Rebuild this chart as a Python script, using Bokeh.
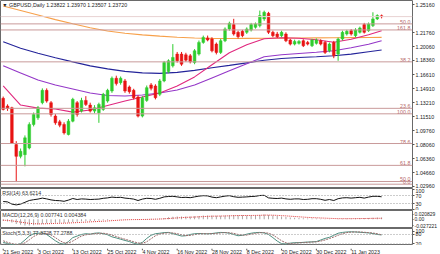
from bokeh.plotting import figure
from bokeh.layouts import column
from bokeh.models import Range1d, FixedTicker, Label, Span, PrintfTickFormatter
from bokeh.embed import file_html
from bokeh.resources import INLINE
from bokeh.core.properties import value

# ---------------- data ----------------
tick_idx = [0, 8, 16, 24, 32, 40, 48, 56, 64, 72, 80]
tick_labels = ["21 Sep 2022", "3 Oct 2022", "13 Oct 2022", "25 Oct 2022", "4 Nov 2022",
               "16 Nov 2022", "28 Nov 2022", "8 Dec 2022", "20 Dec 2022", "30 Dec 2022",
               "11 Jan 2023"]

opens = [1.1373, 1.1279, 1.1258, 1.0808, 1.0664, 1.0685, 1.0767, 1.1054, 1.1135, 1.1320,
         1.1471, 1.1320, 1.1156, 1.1086, 1.1054, 1.0931, 1.1094, 1.1320, 1.1217, 1.1348,
         1.1291, 1.1217, 1.1197, 1.1238, 1.1340, 1.1463, 1.1619, 1.1565, 1.1586, 1.1512,
         1.1471, 1.1390, 1.1156, 1.1348, 1.1537, 1.1524, 1.1422, 1.1586, 1.1701, 1.1770,
         1.1914, 1.1914, 1.1905, 1.1893, 1.1811, 1.1914, 1.2057, 1.2110, 1.2098, 1.2036,
         1.1934, 1.2077, 1.2221, 1.2274, 1.2180, 1.2192, 1.2180, 1.2208, 1.2241, 1.2262,
         1.2344, 1.2413, 1.2180, 1.2159, 1.2139, 1.2159, 1.2086, 1.2036, 1.2045, 1.2077,
         1.2057, 1.2016, 1.2045, 1.2077, 1.2057, 1.1954, 1.2057, 1.1914, 1.2098, 1.2159,
         1.2200, 1.2139, 1.2180, 1.2274, 1.2200, 1.2262, 1.2344, 1.23822]
highs = [1.1395, 1.1300, 1.1270, 1.0850, 1.0760, 1.0920, 1.1080, 1.1200, 1.1280, 1.1495,
         1.1495, 1.1340, 1.1180, 1.1110, 1.1080, 1.1120, 1.1380, 1.1340, 1.1380, 1.1400,
         1.1320, 1.1290, 1.1320, 1.1440, 1.1490, 1.1640, 1.1650, 1.1640, 1.1610, 1.1530,
         1.1490, 1.1410, 1.1400, 1.1530, 1.1560, 1.1545, 1.1610, 1.1830, 1.1850, 1.2036,
         1.1940, 1.1940, 1.1930, 1.1915, 1.1975, 1.2080, 1.2140, 1.2140, 1.2120, 1.2055,
         1.2100, 1.2240, 1.2310, 1.2345, 1.2200, 1.2210, 1.2240, 1.2295, 1.2300, 1.2446,
         1.2445, 1.2430, 1.2200, 1.2185, 1.2200, 1.2180, 1.2100, 1.2090, 1.2085, 1.2095,
         1.2075, 1.2100, 1.2105, 1.2095, 1.2075, 1.2055, 1.2075, 1.2115, 1.2200, 1.2210,
         1.2220, 1.2230, 1.2250, 1.2295, 1.2300, 1.2425, 1.2400, 1.23970]
lows = [1.1225, 1.1220, 1.0820, 1.0350, 1.0640, 1.0542, 1.0750, 1.1030, 1.1110, 1.1300,
        1.1320, 1.1150, 1.1050, 1.1020, 1.0930, 1.0920, 1.1080, 1.1150, 1.1200, 1.1280,
        1.1200, 1.1190, 1.1074, 1.1220, 1.1320, 1.1440, 1.1530, 1.1540, 1.1440, 1.1430,
        1.1360, 1.1140, 1.1140, 1.1330, 1.1470, 1.1360, 1.1400, 1.1570, 1.1680, 1.1750,
        1.1810, 1.1770, 1.1820, 1.1800, 1.1790, 1.1895, 1.2040, 1.2070, 1.1935, 1.1910,
        1.1915, 1.2060, 1.2200, 1.2140, 1.2105, 1.2120, 1.2160, 1.2190, 1.2225, 1.2240,
        1.2320, 1.2160, 1.2120, 1.2110, 1.2120, 1.2060, 1.2020, 1.2020, 1.2030, 1.2000,
        1.2020, 1.2000, 1.2030, 1.2020, 1.1915, 1.1935, 1.1864, 1.1832, 1.2080, 1.2140,
        1.2140, 1.2120, 1.2165, 1.2165, 1.2185, 1.2245, 1.2330, 1.23507]
closes = [1.1238, 1.1250, 1.0828, 1.0664, 1.0726, 1.0890, 1.1054, 1.1176, 1.1258, 1.1471,
          1.1340, 1.1176, 1.1074, 1.1045, 1.0951, 1.1094, 1.1361, 1.1176, 1.1348, 1.1299,
          1.1217, 1.1258, 1.1299, 1.1422, 1.1471, 1.1619, 1.1553, 1.1619, 1.1463, 1.1455,
          1.1381, 1.1156, 1.1381, 1.1504, 1.1496, 1.1381, 1.1586, 1.1811, 1.1832, 1.1873,
          1.1832, 1.1791, 1.1840, 1.1820, 1.1954, 1.2057, 1.2118, 1.2086, 1.1954, 1.1934,
          1.2077, 1.2221, 1.2290, 1.2159, 1.2127, 1.2139, 1.2221, 1.2274, 1.2282, 1.2384,
          1.2425, 1.2180, 1.2139, 1.2127, 1.2180, 1.2077, 1.2036, 1.2069, 1.2069, 1.2016,
          1.2036, 1.2086, 1.2086, 1.2036, 1.1934, 1.2036, 1.1893, 1.2098, 1.2180, 1.2192,
          1.2159, 1.2208, 1.2233, 1.2180, 1.2282, 1.2344, 1.2384, 1.23720]

ma_idx = [0, 4, 8, 12, 16, 20, 24, 28, 32, 36, 40, 44, 48, 52, 56, 60, 64, 68, 72, 76, 80, 84, 87]
ma_orange = [1.2501, 1.2446, 1.2391, 1.2335, 1.2284, 1.2235, 1.2197, 1.2169, 1.2149, 1.2133,
             1.2120, 1.2111, 1.2106, 1.2104, 1.2106, 1.2107, 1.2109, 1.2111, 1.2112, 1.2114,
             1.2115, 1.2117, 1.2118]
ma_blue = [1.2065, 1.1985, 1.1924, 1.1869, 1.1819, 1.1770, 1.1733, 1.1703, 1.1684, 1.1678,
           1.1690, 1.1715, 1.1746, 1.1776, 1.1807, 1.1838, 1.1860, 1.1872, 1.1881, 1.1893,
           1.1914, 1.1942, 1.1963]
ma_purple = [1.1770, 1.1684, 1.1598, 1.1537, 1.1488, 1.1439, 1.1408, 1.1402, 1.1414, 1.1439,
             1.1475, 1.1537, 1.1623, 1.1709, 1.1795, 1.1881, 1.1905, 1.1921, 1.1936, 1.1955,
             1.1991, 1.2034, 1.2077]
ma_pink = [1.1524, 1.1291, 1.1254, 1.1242, 1.1205, 1.1230, 1.1285, 1.1340, 1.1389, 1.1439,
           1.1524, 1.1635, 1.1783, 1.1930, 1.2028, 1.2102, 1.2114, 1.2108, 1.2090, 1.2059,
           1.2096, 1.2151, 1.2200]

fib_levels = [1.2283, 1.2209, 1.1819, 1.1251, 1.1184, 1.0821, 1.0554, 1.0357, 1.0324]
fib_labels = ["50.0", "161.8", "38.2", "23.6", "100.0", "78.6", "61.8", "50.0", "0.0"]

price_ticks = [1.25160, 1.21760, 1.20060, 1.18360, 1.16610, 1.14910, 1.13210,
               1.11510, 1.09760, 1.08060, 1.06360, 1.04660, 1.02960]

rsi = [40, 38, 27, 23, 27, 36, 45, 49, 52, 57, 53, 48, 45, 44, 41, 47, 55, 50, 53, 52,
       50, 51, 52, 56, 58, 62, 60, 61, 57, 55, 52, 45, 52, 56, 55, 51, 56, 63, 65, 66,
       63, 60, 61, 59, 63, 67, 69, 68, 62, 59, 63, 67, 69, 64, 61, 62, 63, 65, 66, 70,
       71, 58, 56, 55, 57, 53, 51, 53, 53, 50, 51, 54, 54, 51, 46, 50, 45, 54, 58, 59,
       57, 59, 61, 57, 62, 66, 66, 63.6214]
rsi_levels = [70, 30]
rsi_ticks = [100, 70, 30, 0]

macd = [-0.0080, -0.0095, -0.0140, -0.0200, -0.0240, -0.0265, -0.0272, -0.0255, -0.0230, -0.0195,
        -0.0170, -0.0160, -0.0155, -0.0150, -0.0150, -0.0140, -0.0115, -0.0105, -0.0090, -0.0080,
        -0.0072, -0.0065, -0.0058, -0.0045, -0.0030, -0.0010, 0.0005, 0.0015, 0.0015, 0.0012,
        0.0005, -0.0010, 0.0000, 0.0010, 0.0018, 0.0020, 0.0032, 0.0060, 0.0085, 0.0105,
        0.0115, 0.0118, 0.0120, 0.0120, 0.0128, 0.0142, 0.0158, 0.0165, 0.0160, 0.0150,
        0.0150, 0.0160, 0.0175, 0.0182, 0.0178, 0.0172, 0.0168, 0.0170, 0.0175, 0.0190,
        0.0208, 0.0185, 0.0160, 0.0138, 0.0122, 0.0100, 0.0080, 0.0065, 0.0055, 0.0042,
        0.0035, 0.0032, 0.0030, 0.0026, 0.0015, 0.0010, 0.0002, 0.0008, 0.0018, 0.0028,
        0.0035, 0.0040, 0.0048, 0.0052, 0.0058, 0.0066, 0.0072, 0.007741]
macd_signal = [-0.0040, -0.0051, -0.0069, -0.0095, -0.0124, -0.0152, -0.0176, -0.0192, -0.0199, -0.0199,
               -0.0193, -0.0187, -0.0180, -0.0174, -0.0169, -0.0163, -0.0153, -0.0144, -0.0133, -0.0122,
               -0.0112, -0.0103, -0.0094, -0.0084, -0.0073, -0.0060, -0.0047, -0.0035, -0.0025, -0.0017,
               -0.0013, -0.0012, -0.0010, -0.0006, -0.0001, 0.0003, 0.0009, 0.0019, 0.0032, 0.0047,
               0.0060, 0.0072, 0.0082, 0.0090, 0.0097, 0.0106, 0.0116, 0.0126, 0.0133, 0.0136,
               0.0139, 0.0143, 0.0150, 0.0156, 0.0161, 0.0163, 0.0164, 0.0165, 0.0167, 0.0172,
               0.0179, 0.0180, 0.0176, 0.0168, 0.0159, 0.0147, 0.0134, 0.0120, 0.0107, 0.0094,
               0.0082, 0.0072, 0.0064, 0.0056, 0.0048, 0.0040, 0.0033, 0.0028, 0.0026, 0.0026,
               0.0027, 0.0029, 0.0031, 0.0033, 0.0036, 0.0039, 0.0041, 0.004384]
macd_ticks = [0.020829, 0.0, -0.027221]
macd_tick_labels = ["0.020829", "0.00", "-0.027221"]

stoch_main = [30, 22, 16, 14, 22, 45, 70, 85, 88, 90, 80, 60, 40, 24, 18, 35, 60, 70, 80, 85,
              82, 88, 90, 85, 78, 65, 58, 50, 42, 35, 25, 18, 30, 55, 75, 85, 88, 92, 93, 85,
              78, 70, 72, 80, 85, 86, 85, 84, 86, 90, 93, 92, 88, 80, 72, 75, 82, 88, 92, 93,
              90, 80, 60, 38, 22, 20, 25, 28, 28, 30, 32, 33, 35, 45, 55, 62, 75, 88, 93, 96,
              97, 96, 94, 92, 90, 86, 80, 77.3728]
stoch_signal = [40, 30, 22, 17, 17, 27, 46, 67, 81, 88, 86, 77, 60, 41, 27, 26, 38, 55, 70, 78,
                82, 85, 87, 88, 84, 76, 67, 58, 50, 42, 34, 26, 24, 34, 53, 72, 83, 88, 91, 90,
                85, 78, 73, 74, 79, 84, 85, 85, 85, 87, 90, 92, 91, 87, 80, 76, 76, 82, 87, 91,
                92, 88, 77, 59, 40, 27, 22, 24, 27, 29, 30, 32, 33, 38, 45, 54, 64, 75, 85, 92,
                95, 96, 96, 94, 92, 89, 85, 77.2788]
stoch_levels = [80, 20]
stoch_ticks = [100, 80, 20]

# ---------------- style ----------------
FONT = "Liberation Sans"
FS = "5.3px"
BULL = "#2ecc2e"
BEAR = "#e81414"
idx = list(range(len(closes)))
xr = Range1d(-0.62, 94.1)


def panel(h, yr, outline=True):
    p = figure(width=440, height=h, x_range=xr, y_range=yr, output_backend="svg",
               toolbar_location=None, y_axis_location="right", x_axis_location=None,
               min_border_left=0, min_border_right=26, min_border_top=0, min_border_bottom=0)
    p.xgrid.visible = False
    p.ygrid.visible = False
    p.outline_line_color = "#6a6a6a" if outline else None
    p.outline_line_width = 1
    p.background_fill_color = "white"
    p.border_fill_color = "white"
    ax = p.yaxis[0]
    ax.axis_line_color = None
    ax.major_tick_out = 2
    ax.major_tick_in = 0
    ax.minor_tick_line_color = None
    ax.major_label_standoff = 1
    ax.major_tick_line_color = "#555555"
    ax.major_label_text_font = FONT
    ax.major_label_text_font_size = FS
    ax.major_label_text_color = "#222222"
    return p


# main price panel
pm = panel(188, Range1d(1.02713, 1.25688))
pm.yaxis.ticker = FixedTicker(ticks=price_ticks)
pm.yaxis.formatter = PrintfTickFormatter(format="%.5f")

for lvl in fib_levels:
    pm.add_layout(Span(location=lvl, dimension="width", line_color="#c99a9a", line_width=1))
pm.add_layout(Span(location=closes[-1], dimension="width", line_color="#e8d2d2", line_width=1))

pm.text(x=[93.6] * len(fib_levels), y=fib_levels, text=fib_labels, text_align="right",
        text_baseline="bottom", text_font=value(FONT), text_font_size=FS, text_color="#b56868")

pm.line(ma_idx, ma_orange, line_color="#f7a04a", line_width=1.1)
pm.line(ma_idx, ma_blue, line_color="#24249a", line_width=1.1)
pm.line(ma_idx, ma_purple, line_color="#9437c8", line_width=1.1)
pm.line(ma_idx, ma_pink, line_color="#e0287e", line_width=1.1)

colors = [BULL if c >= o else BEAR for o, c in zip(opens, closes)]
tops = [max(o, c) for o, c in zip(opens, closes)]
bots = [min(o, c) for o, c in zip(opens, closes)]
pm.segment(idx, highs, idx, lows, line_color=colors, line_width=1)
pm.vbar(x=idx, top=tops, bottom=bots, width=0.62, fill_color=colors, line_color=colors, line_width=0.5)

title_txt = "\u25bc GBPUSD,Daily  %.5f %.5f %.5f %.5f" % (opens[-1], highs[-1], lows[-1], closes[-1])
pm.text(x=[-0.2], y=[1.2508], text=[title_txt], text_align="left", text_baseline="middle",
        text_font=value(FONT), text_font_size=FS, text_color="#222222")

pm.add_layout(Label(x=415, x_units="screen", y=closes[-1], text="%.5f" % closes[-1],
                    text_font=FONT, text_font_size=FS, text_color="white",
                    text_baseline="middle", background_fill_color="black",
                    padding=1))

# RSI panel
pr = panel(22, Range1d(-5, 105))
pr.yaxis.ticker = FixedTicker(ticks=rsi_ticks)
for lvl in rsi_levels:
    pr.add_layout(Span(location=lvl, dimension="width", line_color="#999999",
                       line_dash="1 2", line_width=1))
pr.line(idx, rsi, line_color="#111111", line_width=1)
pr.text(x=[-0.2], y=[82], text=["RSI(14) %.4f" % rsi[-1]], text_align="left",
        text_baseline="middle", text_font=value(FONT), text_font_size=FS, text_color="#333333")

# MACD panel
pd_ = panel(18, Range1d(-0.040, 0.038))
pd_.yaxis.ticker = FixedTicker(ticks=macd_ticks)
pd_.yaxis.major_label_overrides = {t: s for t, s in zip(macd_ticks, macd_tick_labels)}
pd_.yaxis.major_label_text_font_size = "5px"
pd_.yaxis.major_tick_out = 1
pd_.vbar(x=idx, top=macd, bottom=0, width=0.22, fill_color="#a8a0a0", line_color=None)
pd_.line(idx, macd_signal, line_color="#e03a3a", line_dash="1 1", line_width=1)
pd_.text(x=[-0.2], y=[0.0165], text=["MACD(12,26,9) %.6f %.6f" % (macd[-1], macd_signal[-1])],
         text_align="left", text_baseline="middle", text_font=value(FONT), text_font_size=FS,
         text_color="#333333")

# Stochastic panel
ps = panel(17, Range1d(10, 118))
ps.yaxis.ticker = FixedTicker(ticks=stoch_ticks)
for lvl in stoch_levels:
    ps.add_layout(Span(location=lvl, dimension="width", line_color="#999999",
                       line_dash="1 2", line_width=1))
ps.line(idx, stoch_main, line_color="#4f8f80", line_width=1)
ps.line(idx, stoch_signal, line_color="#9a6a6a", line_dash="2 1", line_width=1)
ps.text(x=[-0.2], y=[90], text=["Stoch(5,3,3) %.4f %.4f" % (stoch_main[-1], stoch_signal[-1])],
        text_align="left", text_baseline="middle", text_font=value(FONT), text_font_size=FS,
        text_color="#333333")

# date row (labels start at their bar, as in the terminal)
pt = panel(9, Range1d(0, 1), outline=False)
pt.yaxis.visible = False
pt.segment(x0=tick_idx, y0=[1.0] * len(tick_idx), x1=tick_idx, y1=[0.8] * len(tick_idx),
           line_color="#555555", line_width=1)
pt.text(x=tick_idx, y=[0.58] * len(tick_idx), text=tick_labels, text_align="left",
        text_baseline="middle", text_font=value(FONT), text_font_size=FS, text_color="#222222")

layout = column(pm, pr, pd_, ps, pt, spacing=0)
open("out.html", "w").write(file_html(layout, INLINE))
